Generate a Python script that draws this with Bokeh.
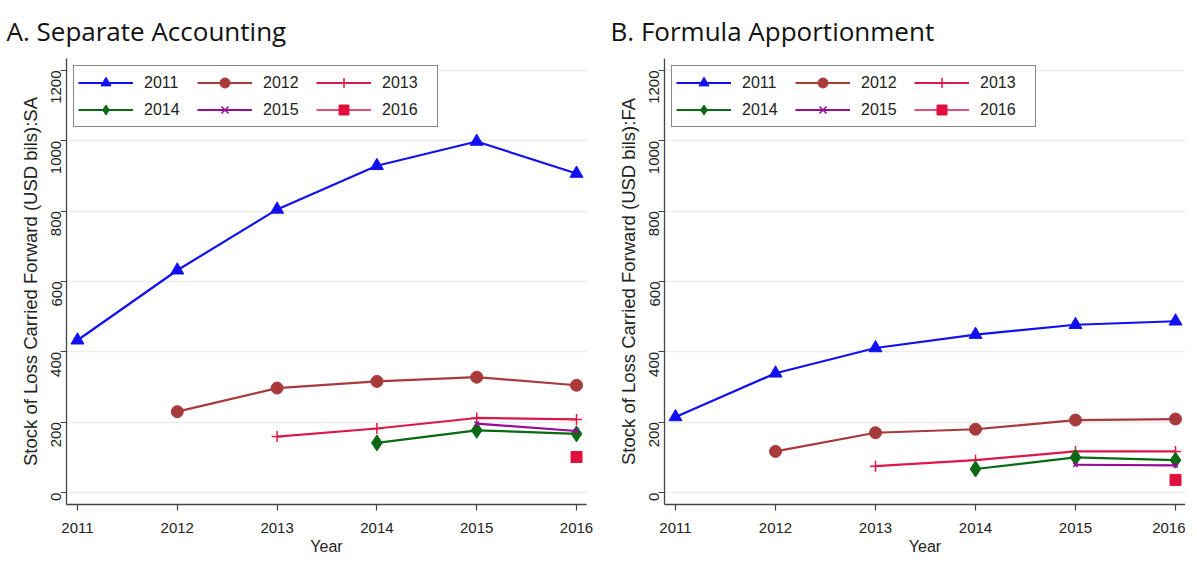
import math
from bokeh.plotting import figure
from bokeh.layouts import row
from bokeh.models import FixedTicker, Range1d, Legend, LegendItem
from bokeh.embed import file_html
from bokeh.resources import INLINE

# ---- data ----
years = [2011, 2012, 2013, 2014, 2015, 2016]
cohorts = ["2011", "2012", "2013", "2014", "2015", "2016"]

sa_2011 = [433, 632, 805, 929, 998, 907]
sa_2012 = [230, 297, 316, 328, 305]
sa_2013 = [159, 182, 212, 208]
sa_2014 = [141, 177, 167]
sa_2015 = [196, 175]
sa_2016 = [101]

fa_2011 = [215, 339, 411, 449, 477, 487]
fa_2012 = [117, 170, 180, 206, 209]
fa_2013 = [75, 92, 117, 117]
fa_2014 = [67, 100, 92]
fa_2015 = [79, 77]
fa_2016 = [36]

y_ticks = [0, 200, 400, 600, 800, 1000, 1200]

# ---- styles ----
line_colors = ["#1010f0", "#a83a3c", "#dc1848", "#0a6a14", "#980a98", "#e8507a"]
marker_colors = ["#1010f0", "#a83a3c", "#dc1848", "#0a6a14", "#980a98", "#e0103c"]
markers = ["triangle", "circle", "cross", "diamond", "x", "square"]
msizes = [13, 12, 11, 16, 6, 11]

AXFONT = "Liberation Sans"
TXT = "#222222"


def make_panel(title, ylabel, series, border_left, title_off, frame_w, border_right):
    p = figure(frame_width=frame_w, frame_height=446,
               x_range=Range1d(2010.89, 2016.1), y_range=Range1d(-34, 1234),
               output_backend="svg", toolbar_location=None,
               min_border_left=border_left, min_border_right=border_right,
               min_border_top=58, min_border_bottom=54,
               title=title, background_fill_color="white",
               border_fill_color="white", outline_line_color=None)
    p.title.text_font = "Open Sans"
    p.title.text_font_size = "26px"
    p.title.text_font_style = "normal"
    p.title.text_color = "#111111"
    p.title.standoff = 20
    p.title.offset = title_off

    items = []
    for i, vals in enumerate(series):
        xs = years[i:]
        lr = p.line(xs, vals, line_color=line_colors[i], line_width=2.2)
        sr = p.scatter(xs, vals, marker=markers[i], size=msizes[i],
                       fill_color=marker_colors[i], line_color=marker_colors[i],
                       line_width=1.5 if markers[i] in ("cross", "x") else 1)
        items.append(LegendItem(label=cohorts[i], renderers=[lr, sr]))

    leg = Legend(items=items, orientation="horizontal", ncols=3,
                 location="top_left", margin=7,
                 glyph_width=55, glyph_height=25, label_height=25,
                 label_width=51, label_standoff=11, spacing=2, padding=4,
                 border_line_color="#111111", border_line_width=1.2,
                 background_fill_color="white", background_fill_alpha=1,
                 label_text_font=AXFONT, label_text_font_size="16px",
                 label_text_color=TXT)
    p.add_layout(leg, "center")

    p.xgrid.visible = False
    p.ygrid.ticker = FixedTicker(ticks=y_ticks)
    p.ygrid.grid_line_color = "#ececec"
    p.ygrid.grid_line_width = 1.6

    p.xaxis.ticker = FixedTicker(ticks=years)
    p.yaxis.ticker = FixedTicker(ticks=y_ticks)
    for ax in (p.xaxis[0], p.yaxis[0]):
        ax.axis_line_color = "#444444"
        ax.axis_line_width = 1.3
        ax.major_tick_line_color = "#444444"
        ax.major_tick_line_width = 1.2
        ax.major_tick_out = 6
        ax.major_tick_in = 0
        ax.minor_tick_line_color = None
        ax.major_label_text_font = AXFONT
        ax.major_label_text_font_size = "15px"
        ax.major_label_text_color = TXT
        ax.axis_label_text_font = AXFONT
        ax.axis_label_text_font_style = "normal"
        ax.axis_label_text_color = TXT
    p.xaxis.axis_label_text_font_size = "16px"
    p.yaxis.axis_label_text_font_size = "18.5px"
    p.yaxis.major_label_orientation = math.pi / 2
    p.yaxis.major_label_standoff = 4
    p.yaxis.axis_label_standoff = 3
    p.yaxis.axis_label = ylabel
    p.xaxis.major_label_standoff = 12
    p.xaxis.axis_label_standoff = 2
    p.xaxis.axis_label = "Year"
    return p


p1 = make_panel("A. Separate Accounting",
                "Stock of Loss Carried Forward (USD bils):SA",
                [sa_2011, sa_2012, sa_2013, sa_2014, sa_2015, sa_2016],
                66, -60, 520, 10)
p2 = make_panel("B. Formula Apportionment",
                "Stock of Loss Carried Forward (USD bils):FA",
                [fa_2011, fa_2012, fa_2013, fa_2014, fa_2015, fa_2016],
                68, -54, 521, 0)

layout = row(p1, p2)
open("out.html", "w").write(file_html(layout, INLINE))
